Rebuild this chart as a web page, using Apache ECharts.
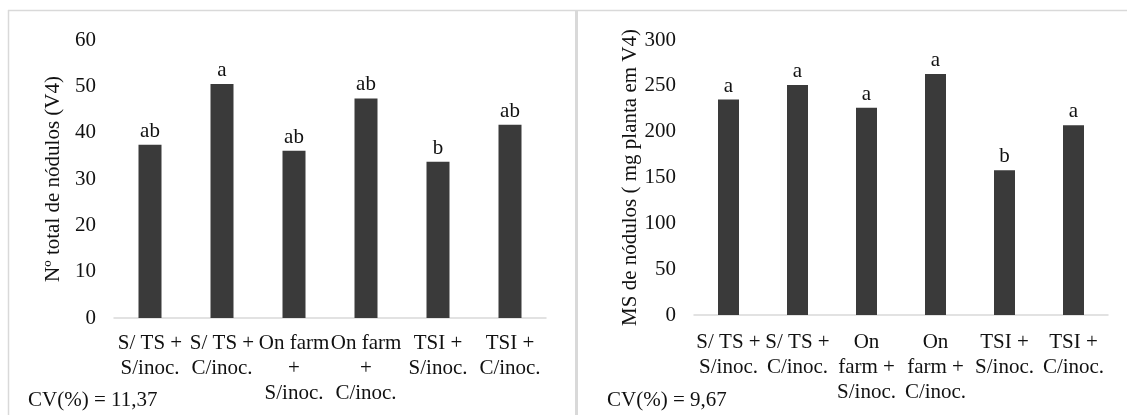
<!DOCTYPE html>
<html><head><meta charset="utf-8">
<script src="https://cdn.jsdelivr.net/npm/echarts@6/dist/echarts.min.js"></script>
<style>html,body{margin:0;padding:0;background:#fff}#c{width:1127px;height:415px}</style>
</head><body><div id="c"></div>
<script>
const categoriesLeft = ["S/ TS +\nS/inoc.", "S/ TS +\nC/inoc.", "On farm\n+\nS/inoc.", "On farm\n+\nC/inoc.", "TSI +\nS/inoc.", "TSI +\nC/inoc."];
const categoriesRight = ["S/ TS +\nS/inoc.", "S/ TS +\nC/inoc.", "On\nfarm +\nS/inoc.", "On\nfarm +\nC/inoc.", "TSI +\nS/inoc.", "TSI +\nC/inoc."];
const noduleCount = [37.4, 50.5, 36.1, 47.4, 33.7, 41.7];
const noduleCountLetters = ["ab", "a", "ab", "ab", "b", "ab"];
const noduleMass = [235, 251, 226, 263, 158, 207];
const noduleMassLetters = ["a", "a", "a", "a", "b", "a"];
const leftTicks = [0, 10, 20, 30, 40, 50, 60];
const rightTicks = [0, 50, 100, 150, 200, 250, 300];
const leftTitle = "Nº total de nódulos (V4)";
const rightTitle = "MS de nódulos ( mg planta em V4)";
const leftCV = "CV(%) = 11,37";
const rightCV = "CV(%) = 9,67";

const FONT = "'Liberation Serif', 'Times New Roman', serif";
const FS = 21;
const TXT = "#111111";
const BAR = "#3a3a3a";
const GRAY = "#d9d9d9";

const chart = echarts.init(document.getElementById('c'), null, {renderer: 'canvas'});
function yAxis(idx, ticks, title) {
  return {
    type: 'value', gridIndex: idx, min: ticks[0], max: ticks[ticks.length - 1],
    interval: ticks[1] - ticks[0],
    axisLine: {show: false}, axisTick: {show: false}, splitLine: {show: false},
    axisLabel: {fontFamily: FONT, fontSize: FS, color: TXT, margin: 18},
    name: title, nameLocation: 'middle', nameGap: 50, nameRotate: 90,
    nameTextStyle: {fontFamily: FONT, fontSize: FS, color: TXT}
  };
}
function xAxis(idx, cats, margin) {
  return {
    type: 'category', gridIndex: idx, data: cats,
    axisLine: {lineStyle: {color: GRAY, width: 1.5}}, axisTick: {show: false},
    axisLabel: {interval: 0, fontFamily: FONT, fontSize: FS, color: TXT, lineHeight: 25, margin: margin}
  };
}
function bars(idx, vals, letters, width) {
  return {
    type: 'bar', xAxisIndex: idx, yAxisIndex: idx, barWidth: width,
    data: vals, itemStyle: {color: BAR},
    label: {show: true, position: 'top', distance: 3, fontFamily: FONT, fontSize: FS, color: TXT,
      formatter: p => letters[p.dataIndex]},
    animation: false
  };
}
chart.setOption({
  animation: false,
  grid: [
    {left: 114, width: 432, top: 40, height: 278},
    {left: 694, width: 414, top: 40, height: 275}
  ],
  xAxis: [xAxis(0, categoriesLeft, 13), xAxis(1, categoriesRight, 15)],
  yAxis: [yAxis(0, leftTicks, leftTitle), yAxis(1, rightTicks, rightTitle)],
  series: [bars(0, noduleCount, noduleCountLetters, 23), bars(1, noduleMass, noduleMassLetters, 21)],
  graphic: [
    {type: 'line', shape: {x1: 8, y1: 10.5, x2: 1127, y2: 10.5}, style: {stroke: GRAY, lineWidth: 1.5}},
    {type: 'line', shape: {x1: 8.5, y1: 10, x2: 8.5, y2: 415}, style: {stroke: GRAY, lineWidth: 1.5}},
    {type: 'line', shape: {x1: 576.5, y1: 10, x2: 576.5, y2: 415}, style: {stroke: GRAY, lineWidth: 3}},
    {type: 'text', left: 28, top: 390, style: {text: leftCV, font: FS + "px " + FONT, fill: TXT}},
    {type: 'text', left: 607, top: 390, style: {text: rightCV, font: FS + "px " + FONT, fill: TXT}}
  ]
});
</script></body></html>
